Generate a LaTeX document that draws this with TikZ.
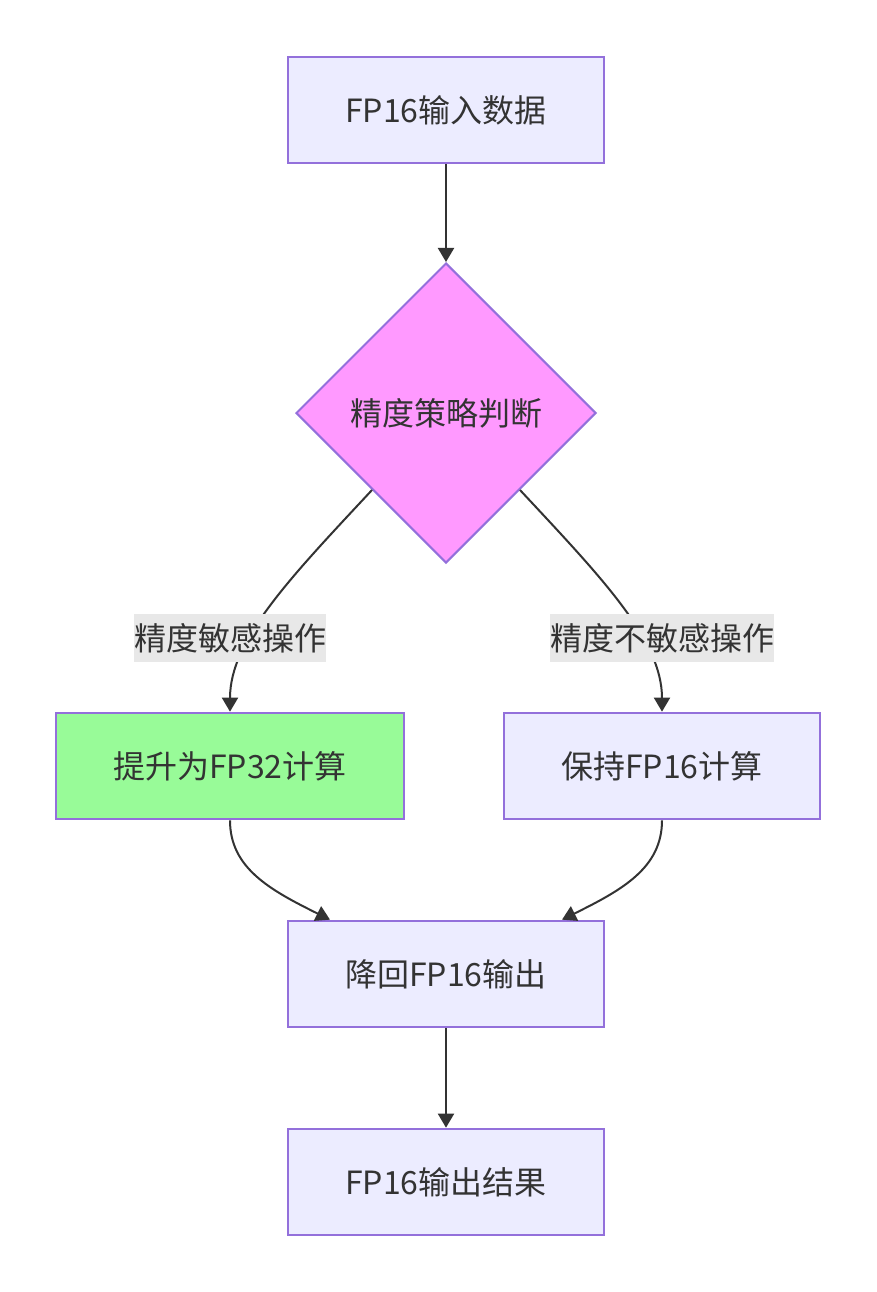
\documentclass[tikz,border=0pt]{standalone}
\usepackage{fontspec}
\setmainfont{Noto Sans CJK SC}
\usetikzlibrary{shapes.geometric,arrows.meta}
\definecolor{boxfill}{HTML}{ECECFF}
\definecolor{boxline}{HTML}{9370DB}
\definecolor{diafill}{HTML}{FF99FF}
\definecolor{greenfill}{HTML}{98FB98}
\definecolor{txt}{HTML}{333333}
\definecolor{lblbg}{HTML}{E8E8E8}
\begin{document}
\begin{tikzpicture}[x=0.75pt,y=-0.75pt,
  font=\fontsize{24pt}{30pt}\selectfont, text=txt,
  procbox/.style={draw=boxline, fill=boxfill, line width=1.5pt, minimum width=237pt, minimum height=80pt, inner sep=0pt},
  decide/.style={diamond, draw=boxline, fill=diafill, line width=1.5pt, minimum width=225pt, minimum height=225pt, inner sep=0pt},
  edgelbl/.style={fill=lblbg, inner xsep=0pt, inner ysep=0pt, minimum height=36pt},
  conn/.style={draw=txt, line width=1.5pt, -{Triangle[length=10.5pt,width=12pt]}}
]
\useasboundingbox (0,0) rectangle (876,1292);
\node[procbox] (a) at (446,110) {FP16输入数据};
\node[decide] (b) at (446,413) {精度策略判断};
\node[procbox, fill=greenfill, minimum width=261pt] (c) at (230,766) {提升为FP32计算};
\node[procbox] (d) at (662,766) {保持FP16计算};
\node[procbox] (e) at (446,974) {降回FP16输出};
\node[procbox] (f) at (446,1182) {FP16输出结果};
\coordinate (bl) at (372,490);
\coordinate (br) at (520,490);
\draw[conn] (a) -- (b);
\draw[conn] (bl) .. controls (290,578) and (230,640) .. (c.north);
\draw[conn] (br) .. controls (602,578) and (662,640) .. (d.north);
\node[edgelbl] (l1) at (230,638) {精度敏感操作};
\node[edgelbl] (l2) at (662,638) {精度不敏感操作};
\draw[conn] (c.south) .. controls (230,868) and (270,890) .. (e.north -| 330,0);
\draw[conn] (d.south) .. controls (662,868) and (622,890) .. (e.north -| 562,0);
\draw[conn] (e) -- (f);
\end{tikzpicture}
\end{document}
